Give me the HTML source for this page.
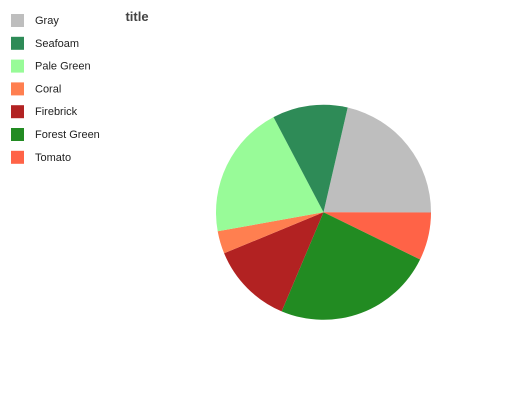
<!DOCTYPE html>
<html><head><style>body{margin:0;background:#fff}svg{font-family:"Liberation Sans",sans-serif}</style></head>
<body>
<svg width="532" height="400">
<text x="137" y="21" font-size="13" font-weight="bold" fill="#444" text-anchor="middle">title</text>
<g id="legend"></g>
<g id="pie"></g>
</svg>
<script>
const categories=["Gray","Tomato","Forest Green","Firebrick","Coral","Pale Green","Seafoam"];
const values=[21.4,7.2,24.1,12.4,3.4,20.1,11.3];
const colors=["#bebebe","#ff6347","#228b22","#b22222","#ff7f50","#98fb98","#2e8b57"];
const legendOrder=["Gray","Seafoam","Pale Green","Coral","Firebrick","Forest Green","Tomato"];
const NS="http://www.w3.org/2000/svg";
const cx=323.5,cy=212.3,r=107.5,start=13;
const total=values.reduce((a,b)=>a+b,0);
const pie=document.getElementById('pie');
let a=start;
function pt(d){const t=d*Math.PI/180;return [cx+r*Math.sin(t),cy-r*Math.cos(t)];}
values.forEach((v,i)=>{
 const sweep=v/total*360;const p1=pt(a),p2=pt(a+sweep);
 const p=document.createElementNS(NS,'path');
 p.setAttribute('d',`M${cx},${cy}L${p1[0]},${p1[1]}A${r},${r} 0 ${sweep>180?1:0} 1 ${p2[0]},${p2[1]}Z`);
 p.setAttribute('fill',colors[i]);
 
 
 pie.appendChild(p);a+=sweep;
});
const lg=document.getElementById('legend');
legendOrder.forEach((c,j)=>{
 const y=20+j*22.8;
 const rc=document.createElementNS(NS,'rect');
 rc.setAttribute('x',11);rc.setAttribute('y',y-6);rc.setAttribute('width',13);rc.setAttribute('height',13);
 rc.setAttribute('fill',colors[categories.indexOf(c)]);
 
 
 lg.appendChild(rc);
 const t=document.createElementNS(NS,'text');
 t.setAttribute('x',35);t.setAttribute('y',y+4);t.setAttribute('font-size','11');t.setAttribute('fill','#222');
 t.textContent=c;
 
 
 lg.appendChild(t);
});
</script>
</body></html>
